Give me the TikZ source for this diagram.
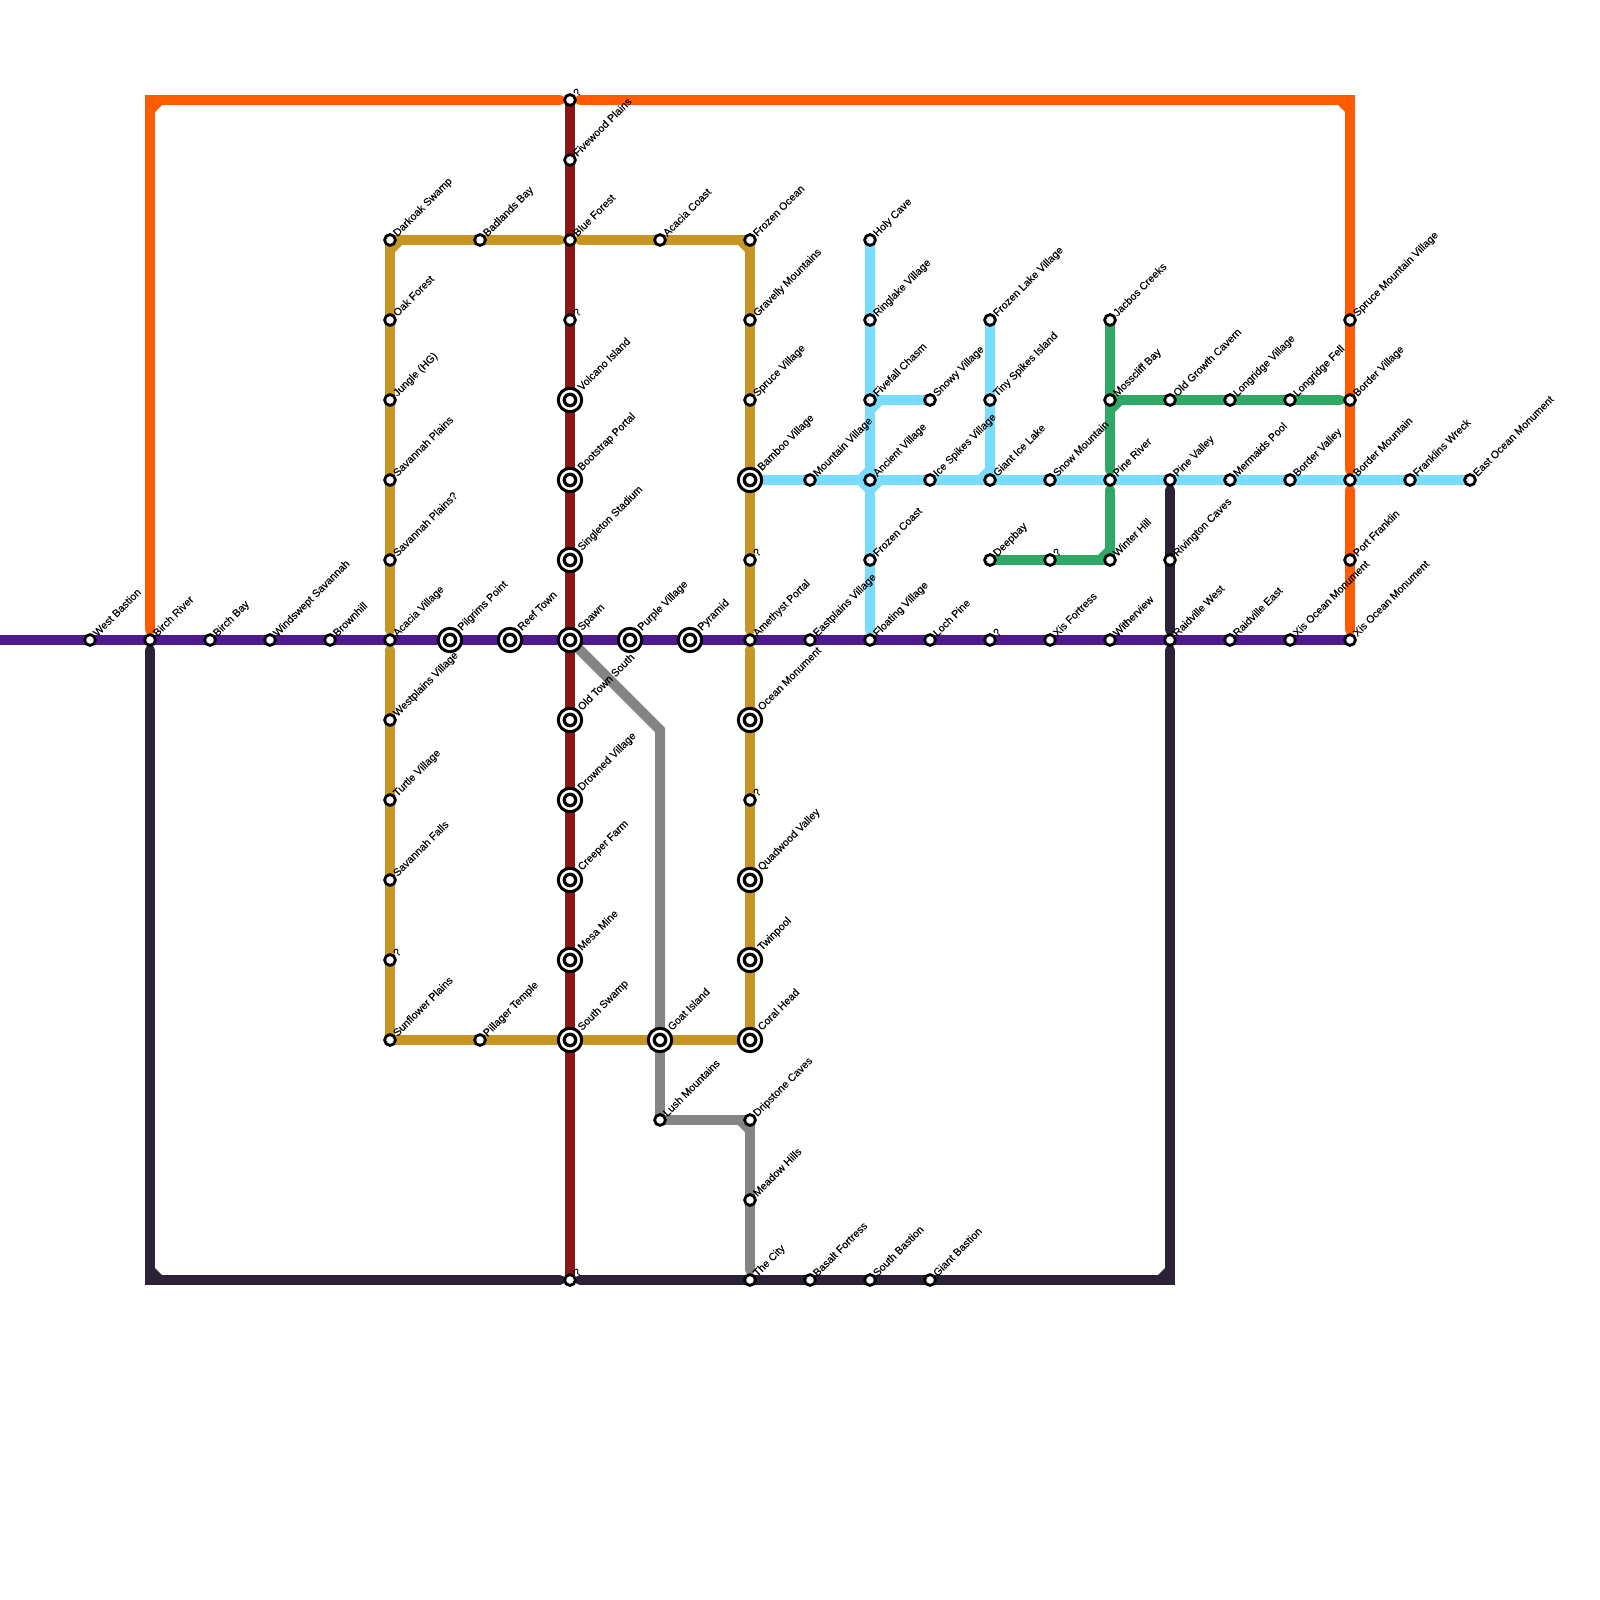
\documentclass[tikz,border=0pt]{standalone}
\usepackage{fontspec}
\setmainfont{Liberation Sans}
\newfontfamily\lblfont[FakeBold=0.12]{Liberation Sans}
\definecolor{cOrange}{HTML}{FF5A00}
\definecolor{cRed}{HTML}{8B1616}
\definecolor{cGold}{HTML}{C69523}
\definecolor{cGray}{HTML}{848484}
\definecolor{cDark}{HTML}{2C2238}
\definecolor{cPurple}{HTML}{4E1A8E}
\definecolor{cBlue}{HTML}{78DCFF}
\definecolor{cGreen}{HTML}{2FA866}
\pgfdeclarelayer{lines}
\pgfsetlayers{lines,main}
\tikzset{
  stn/.style={circle,draw=black,fill=white,line width=0.028cm,minimum size=0.108cm,inner sep=0pt},
  xbig/.style={circle,draw=black,fill=white,line width=0.03cm,minimum size=0.234cm,inner sep=0pt},
  xsmall/.style={circle,draw=black,fill=white,line width=0.033cm,minimum size=0.114cm,inner sep=0pt},
  lbl/.style={rotate=45,anchor=base west,inner sep=0pt,outer sep=0pt,text=black,font=\lblfont\fontsize{3.02pt}{3.02pt}\selectfont},
  ln/.style={line width=0.1cm,line cap=round,line join=round},
  trim/.style={shorten <=0.1cm,shorten >=0.1cm},
  trimend/.style={shorten >=0.1cm},
  trimstart/.style={shorten <=0.1cm},
}
% plain station: name, x, y, label
\newcommand\stp[4]{%
  \node[stn] (#1) at (#2,#3) {};
  \node[lbl] (#1l) at ([shift={(7.5,-3)}]#1.center) {#4};}
% interchange station: name, x, y, label
\newcommand\stx[4]{%
  \node[xbig] (#1) at (#2,#3) {};
  \node[xsmall] (#1i) at (#1.center) {};
  \node[lbl] (#1l) at ([shift={(12,-9)}]#1.center) {#4};}
% inner-corner bevel: colour, node, x sign, y sign
\newcommand\bevel[4]{%
  \fill[#1] ([shift={(4*#3,4*#4)}]#2.center) -- ([shift={(12*#3,4*#4)}]#2.center) -- ([shift={(12*#3,5*#4)}]#2.center) -- ([shift={(5*#3,12*#4)}]#2.center) -- ([shift={(4*#3,12*#4)}]#2.center) -- cycle;}
\begin{document}
\begin{tikzpicture}[x=0.01cm,y=-0.01cm]
\useasboundingbox (0,0) rectangle (1600,1600);
% free points
\coordinate (west) at (0,640);
\coordinate (oTL) at (150,100);
\coordinate (oTR) at (1350,100);
\coordinate (dBL) at (150,1280);
\coordinate (dBR) at (1170,1280);
\coordinate (gBend) at (660,730);
% purple row
\stp{westb}{90}{640}{West Bastion}
\stp{birch}{150}{640}{Birch River}
\stp{birchb}{210}{640}{Birch Bay}
\stp{winds}{270}{640}{Windswept Savannah}
\stp{brown}{330}{640}{Brownhill}
\stp{acacv}{390}{640}{Acacia Village}
\stx{pilg}{450}{640}{Pilgrims Point}
\stx{reef}{510}{640}{Reef Town}
\stx{spawn}{570}{640}{Spawn}
\stx{purpv}{630}{640}{Purple Village}
\stx{pyra}{690}{640}{Pyramid}
\stp{ameth}{750}{640}{Amethyst Portal}
\stp{eastp}{810}{640}{Eastplains Village}
\stp{float}{870}{640}{Floating Village}
\stp{loch}{930}{640}{Loch Pine}
\stp{qpur}{990}{640}{?}
\stp{xisf}{1050}{640}{Xis Fortress}
\stp{wither}{1110}{640}{Witherview}
\stp{raidw}{1170}{640}{Raidville West}
\stp{raide}{1230}{640}{Raidville East}
\stp{xisa}{1290}{640}{Xis Ocean Monument}
\stp{xisb}{1350}{640}{Xis Ocean Monument}
% gold
\stp{dark}{390}{240}{Darkoak Swamp}
\stp{oak}{390}{320}{Oak Forest}
\stp{jung}{390}{400}{Jungle (HG)}
\stp{sava}{390}{480}{Savannah Plains}
\stp{savb}{390}{560}{Savannah Plains?}
\stp{westv}{390}{720}{Westplains Village}
\stp{turt}{390}{800}{Turtle Village}
\stp{savf}{390}{880}{Savannah Falls}
\stp{qgold}{390}{960}{?}
\stp{sunf}{390}{1040}{Sunflower Plains}
\stp{badl}{480}{240}{Badlands Bay}
\stp{acacc}{660}{240}{Acacia Coast}
\stp{froz}{750}{240}{Frozen Ocean}
\stp{grav}{750}{320}{Gravelly Mountains}
\stp{sprv}{750}{400}{Spruce Village}
\stx{bamb}{750}{480}{Bamboo Village}
\stp{qgb}{750}{560}{?}
\stx{ocean}{750}{720}{Ocean Monument}
\stp{qgc}{750}{800}{?}
\stx{quad}{750}{880}{Quadwood Valley}
\stx{twin}{750}{960}{Twinpool}
\stx{coral}{750}{1040}{Coral Head}
\stx{goat}{660}{1040}{Goat Island}
\stp{pill}{480}{1040}{Pillager Temple}
% red
\stp{qra}{570}{100}{?}
\stp{five}{570}{160}{Fivewood Plains}
\stp{blue}{570}{240}{Blue Forest}
\stp{qrb}{570}{320}{?}
\stx{volc}{570}{400}{Volcano Island}
\stx{boot}{570}{480}{Bootstrap Portal}
\stx{sing}{570}{560}{Singleton Stadium}
\stx{oldt}{570}{720}{Old Town South}
\stx{drow}{570}{800}{Drowned Village}
\stx{creep}{570}{880}{Creeper Farm}
\stx{mesa}{570}{960}{Mesa Mine}
\stx{souths}{570}{1040}{South Swamp}
\stp{qrc}{570}{1280}{?}
% gray
\stp{lush}{660}{1120}{Lush Mountains}
\stp{drip}{750}{1120}{Dripstone Caves}
\stp{mead}{750}{1200}{Meadow Hills}
\stp{city}{750}{1280}{The City}
% dark
\stp{basal}{810}{1280}{Basalt Fortress}
\stp{southb}{870}{1280}{South Bastion}
\stp{giantb}{930}{1280}{Giant Bastion}
\stp{rivi}{1170}{560}{Rivington Caves}
% light blue
\stp{holy}{870}{240}{Holy Cave}
\stp{ring}{870}{320}{Ringlake Village}
\stp{fivef}{870}{400}{Fivefall Chasm}
\stp{anc}{870}{480}{Ancient Village}
\stp{fcoast}{870}{560}{Frozen Coast}
\stp{snowy}{930}{400}{Snowy Village}
\stp{mountv}{810}{480}{Mountain Village}
\stp{ices}{930}{480}{Ice Spikes Village}
\stp{frozl}{990}{320}{Frozen Lake Village}
\stp{tiny}{990}{400}{Tiny Spikes Island}
\stp{giant}{990}{480}{Giant Ice Lake}
\stp{snowm}{1050}{480}{Snow Mountain}
\stp{piner}{1110}{480}{Pine River}
\stp{pinev}{1170}{480}{Pine Valley}
\stp{merm}{1230}{480}{Mermaids Pool}
\stp{bordv}{1290}{480}{Border Valley}
\stp{bordm}{1350}{480}{Border Mountain}
\stp{frank}{1410}{480}{Franklins Wreck}
\stp{eastm}{1470}{480}{East Ocean Monument}
% green
\stp{jac}{1110}{320}{Jacbos Creeks}
\stp{moss}{1110}{400}{Mosscliff Bay}
\stp{oldg}{1170}{400}{Old Growth Cavern}
\stp{longv}{1230}{400}{Longridge Village}
\stp{longf}{1290}{400}{Longridge Fell}
\stp{bordr}{1350}{400}{Border Village}
\stp{deep}{990}{560}{Deepbay}
\stp{qgr}{1050}{560}{?}
\stp{wint}{1110}{560}{Winter Hill}
% orange
\stp{sprm}{1350}{320}{Spruce Mountain Village}
\stp{port}{1350}{560}{Port Franklin}
\begin{pgfonlayer}{lines}
% orange
\draw[ln,cOrange,trim,line join=miter] (birch.center) -- (oTL) -- (qra.center);
\draw[ln,cOrange,trim,line join=miter] (qra.center) -- (oTR) -- (sprm.center) -- (bordr.center) -- (bordm.center);
\draw[ln,cOrange,trim] (bordm.center) -- (port.center) -- (xisb.center);
\bevel{cOrange}{oTL}{1}{1}
\bevel{cOrange}{oTR}{-1}{1}
% gold
\draw[ln,cGold,trim] (acacv.center) -- (savb.center) -- (sava.center) -- (jung.center) -- (oak.center) -- (dark.center) -- (badl.center) -- (blue.center);
\draw[ln,cGold,trim] (blue.center) -- (acacc.center) -- (froz.center) -- (grav.center) -- (sprv.center) -- (bamb.center) -- (qgb.center) -- (ameth.center);
\draw[ln,cGold,trim] (acacv.center) -- (westv.center) -- (turt.center) -- (savf.center) -- (qgold.center) -- (sunf.center) -- (pill.center) -- (souths.center);
\draw[ln,cGold,trimstart] (ameth.center) -- (ocean.center) -- (qgc.center) -- (quad.center) -- (twin.center) -- (coral.center) -- (goat.center) -- (souths.center);
\bevel{cGold}{dark}{1}{1}
\bevel{cGold}{froz}{-1}{1}
% gray
\draw[ln,cGray,line cap=butt,line join=miter] (spawn.center) -- (gBend) -- (goat.center);
\draw[ln,cGray,trimend] (goat.center) -- (lush.center) -- (drip.center) -- (mead.center) -- (city.center);
\bevel{cGray}{drip}{-1}{1}
% dark
\draw[ln,cDark,trim,line join=miter] (birch.center) -- (dBL) -- (qrc.center);
\draw[ln,cDark,trim,line join=miter] (qrc.center) -- (basal.center) -- (southb.center) -- (giantb.center) -- (dBR) -- (raidw.center);
\draw[ln,cDark,trim] (raidw.center) -- (rivi.center) -- (pinev.center);
\bevel{cDark}{dBL}{1}{-1}
\bevel{cDark}{dBR}{-1}{-1}
% red
\draw[ln,cRed,line cap=butt] (qra.center) -- (five.center) -- (blue.center) -- (qrb.center) -- (volc.center) -- (boot.center) -- (sing.center) -- (spawn.center) -- (oldt.center) -- (drow.center) -- (creep.center) -- (mesa.center) -- (souths.center) -- (qrc.center);
% green
\draw[ln,cGreen,trimend] (jac.center) -- (moss.center) -- (piner.center);
\draw[ln,cGreen,trimstart] (piner.center) -- (wint.center) -- (qgr.center) -- (deep.center);
\draw[ln,cGreen,trimend] (moss.center) -- (oldg.center) -- (longv.center) -- (longf.center) -- (bordr.center);
\bevel{cGreen}{moss}{1}{1}
\bevel{cGreen}{wint}{-1}{-1}
% light blue
\draw[ln,cBlue] (bamb.center) -- (mountv.center) -- (anc.center) -- (ices.center) -- (giant.center) -- (snowm.center) -- (piner.center) -- (pinev.center) -- (merm.center) -- (bordv.center) -- (bordm.center) -- (frank.center) -- (eastm.center);
\draw[ln,cBlue,trimend] (holy.center) -- (ring.center) -- (fivef.center) -- (anc.center) -- (fcoast.center) -- (float.center);
\draw[ln,cBlue] (fivef.center) -- (snowy.center);
\draw[ln,cBlue] (frozl.center) -- (tiny.center) -- (giant.center);
\bevel{cBlue}{fivef}{1}{1}
\bevel{cBlue}{anc}{-1}{-1}
\bevel{cBlue}{anc}{-1}{1}
\bevel{cBlue}{anc}{1}{1}
\bevel{cBlue}{giant}{-1}{-1}
% purple
\draw[line width=0.1cm,cPurple] (west) -- (xisb.center);
\end{pgfonlayer}
\end{tikzpicture}
\end{document}
